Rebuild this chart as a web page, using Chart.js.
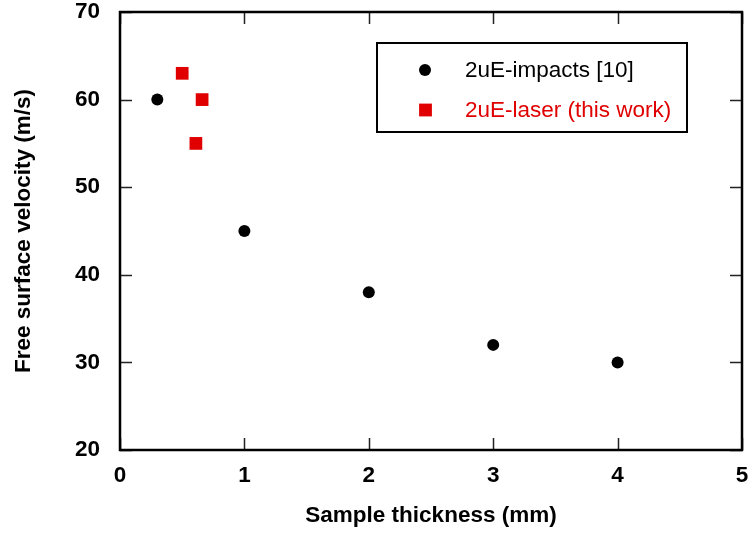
<!DOCTYPE html>
<html>
<head>
<meta charset="utf-8">
<script src="https://cdn.jsdelivr.net/npm/chart.js@4.4.1/dist/chart.umd.min.js"></script>
<style>
html,body{margin:0;padding:0;background:#fff;}
#wrap{width:751px;height:533px;}
</style>
</head>
<body>
<div id="wrap"><canvas id="c" width="751" height="533"></canvas></div>
<script>
const impactsLabel = '2uE-impacts [10]';
const impactsX = [0.3, 1, 2, 3, 4];
const impactsY = [60, 45, 38, 32, 30];
const laserLabel = '2uE-laser (this work)';
const laserX = [0.5, 0.66, 0.61];
const laserY = [63, 60, 55];
const xTicks = [0, 1, 2, 3, 4, 5];
const yTicks = [20, 30, 40, 50, 60, 70];

const FONT = "'Liberation Sans', Arial, sans-serif";
const RED = '#e00000';

const framePlugin = {
  id: 'frame',
  afterDraw(chart) {
    const {ctx, chartArea: a, scales} = chart;
    ctx.save();
    ctx.strokeStyle = '#222';
    ctx.lineWidth = 1.5;
    const tl = 12;
    ctx.beginPath();
    scales.x.ticks.forEach(t => {
      const px = Math.round(scales.x.getPixelForValue(t.value)) + 0.5;
      ctx.moveTo(px, a.bottom); ctx.lineTo(px, a.bottom - tl);
      ctx.moveTo(px, a.top); ctx.lineTo(px, a.top + tl);
    });
    scales.y.ticks.forEach(t => {
      const py = Math.round(scales.y.getPixelForValue(t.value)) + 0.5;
      ctx.moveTo(a.left, py); ctx.lineTo(a.left + tl, py);
      ctx.moveTo(a.right, py); ctx.lineTo(a.right - tl, py);
    });
    ctx.stroke();
    ctx.strokeStyle = '#000';
    ctx.lineWidth = 2.5;
    ctx.strokeRect(a.left, a.top, a.right - a.left, a.bottom - a.top);

    // legend
    const bx = 377, by = 43, bw = 310, bh = 89;
    ctx.lineWidth = 2;
    ctx.strokeRect(bx, by, bw, bh);
    ctx.font = '22.5px ' + FONT;
    ctx.textBaseline = 'middle';
    ctx.textAlign = 'left';
    chart.data.datasets.forEach((ds, i) => {
      const cy = 70 + i * 40;
      ctx.fillStyle = ds.backgroundColor;
      if (ds.pointStyle === 'rect') {
        const s = 6.4;
        ctx.fillRect(425.5 - s, cy - s, 2 * s, 2 * s);
      } else {
        ctx.beginPath();
        ctx.arc(425, cy, ds.pointRadius, 0, Math.PI * 2);
        ctx.fill();
      }
      ctx.fillStyle = ds.legendColor;
      ctx.fillText(ds.label, 465, cy + 1);
    });
    ctx.restore();
  }
};

new Chart(document.getElementById('c'), {
  type: 'scatter',
  data: {
    datasets: [
      {
        label: impactsLabel,
        data: impactsX.map((x, i) => ({x, y: impactsY[i]})),
        pointStyle: 'circle',
        pointRadius: 6,
        backgroundColor: '#000',
        borderColor: '#000',
        borderWidth: 0,
        legendColor: '#000'
      },
      {
        label: laserLabel,
        data: laserX.map((x, i) => ({x, y: laserY[i]})),
        pointStyle: 'rect',
        pointRadius: 9,
        backgroundColor: RED,
        borderColor: RED,
        borderWidth: 0,
        legendColor: RED
      }
    ]
  },
  options: {
    responsive: false,
    animation: false,
    layout: {padding: {left: 0, top: 12, right: 8, bottom: 0}},
    plugins: {legend: {display: false}, tooltip: {enabled: false}},
    scales: {
      x: {
        type: 'linear', min: 0, max: 5,
        afterFit(s) { s.height = 83; s.paddingLeft = 0; s.paddingRight = 0; },
        afterBuildTicks(s) { s.ticks = xTicks.map(v => ({value: v})); },
        grid: {display: false, drawTicks: false},
        border: {display: false},
        ticks: {padding: 12, color: '#000', font: {family: FONT, size: 22.5, weight: 'bold'}},
        title: {display: true, text: 'Sample thickness (mm)', color: '#000', padding: {top: 4, bottom: 4},
                font: {family: FONT, size: 22.5, weight: 'bold'}}
      },
      y: {
        type: 'linear', min: 20, max: 70,
        afterFit(s) { s.width = 120; s.paddingTop = 0; s.paddingBottom = 0; },
        afterBuildTicks(s) { s.ticks = yTicks.map(v => ({value: v})); },
        grid: {display: false, drawTicks: false},
        border: {display: false},
        ticks: {padding: 20, color: '#000', font: {family: FONT, size: 22.5, weight: 'bold'}},
        title: {display: true, text: 'Free surface velocity (m/s)', color: '#000', padding: {top: 10, bottom: 4},
                font: {family: FONT, size: 22.5, weight: 'bold'}}
      }
    }
  },
  plugins: [framePlugin]
});
</script>
</body>
</html>
